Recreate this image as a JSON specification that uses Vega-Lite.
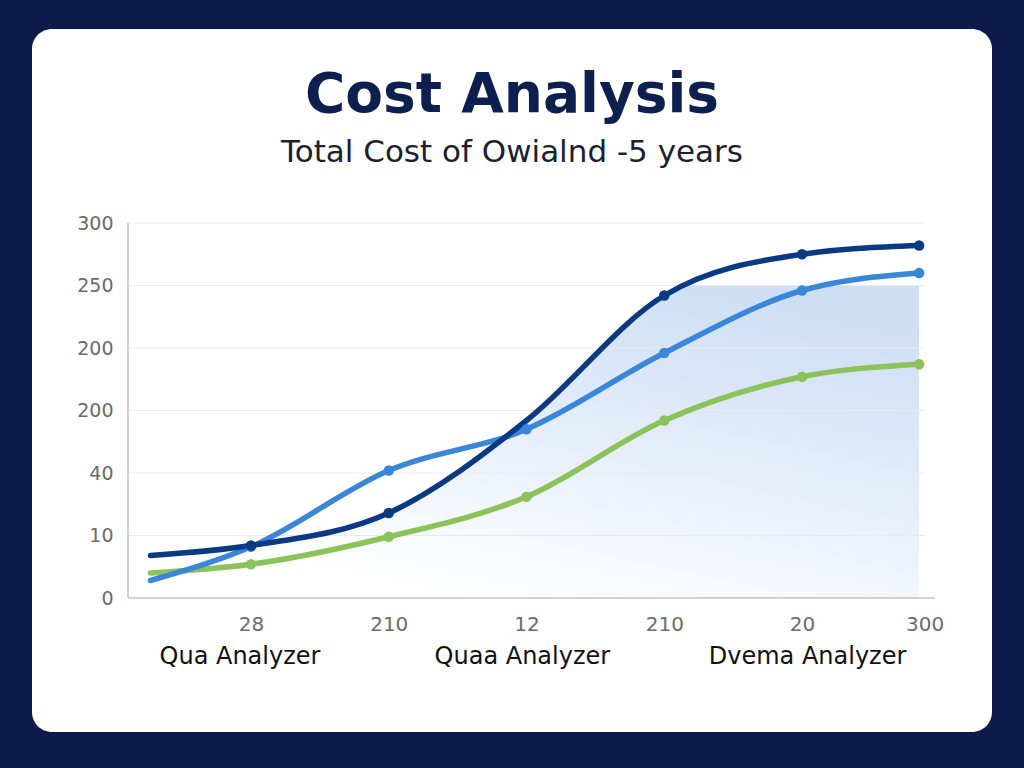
{
  "$schema": "https://vega.github.io/schema/vega-lite/v6.json",
  "width": 960,
  "height": 703,
  "autosize": "none",
  "padding": {"left": 32, "top": 29, "right": 32, "bottom": 36},
  "background": "#0c1b4b",
  "title": {
    "text": "Cost Analysis",
    "subtitle": "Total Cost of Owialnd -5 years",
    "anchor": "middle",
    "offset": -140,
    "font": "DejaVu Sans",
    "fontSize": 55,
    "fontWeight": "bold",
    "color": "#0d1f4f",
    "subtitleFont": "DejaVu Sans",
    "subtitleFontSize": 31,
    "subtitleColor": "#1c1f2e",
    "subtitlePadding": 14
  },
  "datasets": {
    "cost": [
      {"series": "Dvema Analyzer", "t": 0.27, "v": 20},
      {"series": "Dvema Analyzer", "t": 1, "v": 27},
      {"series": "Dvema Analyzer", "t": 2, "v": 49},
      {"series": "Dvema Analyzer", "t": 3, "v": 81},
      {"series": "Dvema Analyzer", "t": 4, "v": 142},
      {"series": "Dvema Analyzer", "t": 5, "v": 177},
      {"series": "Dvema Analyzer", "t": 5.85, "v": 187},
      {"series": "Quaa Analyzer", "t": 0.27, "v": 14},
      {"series": "Quaa Analyzer", "t": 1, "v": 41},
      {"series": "Quaa Analyzer", "t": 2, "v": 102},
      {"series": "Quaa Analyzer", "t": 3, "v": 135},
      {"series": "Quaa Analyzer", "t": 4, "v": 196},
      {"series": "Quaa Analyzer", "t": 5, "v": 246},
      {"series": "Quaa Analyzer", "t": 5.85, "v": 260},
      {"series": "Qua Analyzer", "t": 0.27, "v": 34},
      {"series": "Qua Analyzer", "t": 1, "v": 42},
      {"series": "Qua Analyzer", "t": 2, "v": 68},
      {"series": "Qua Analyzer", "t": 3, "v": 142},
      {"series": "Qua Analyzer", "t": 4, "v": 242},
      {"series": "Qua Analyzer", "t": 5, "v": 275},
      {"series": "Qua Analyzer", "t": 5.85, "v": 282}
    ],
    "band": [
      {"t": 1, "v": 42},
      {"t": 2, "v": 68},
      {"t": 3, "v": 142},
      {"t": 4, "v": 242},
      {"t": 4.2, "v": 250},
      {"t": 5, "v": 250},
      {"t": 5.85, "v": 250}
    ],
    "grid": [{"v": 50}, {"v": 100}, {"v": 150}, {"v": 200}, {"v": 250}, {"v": 300}],
    "groups": [
      {"t": 0.92, "label": "Qua Analyzer"},
      {"t": 2.97, "label": "Quaa Analyzer"},
      {"t": 5.04, "label": "Dvema Analyzer"}
    ]
  },
  "layer": [
    {
      "data": {"name": "band"},
      "mark": {
        "type": "area",
        "interpolate": "monotone",
        "color": {
          "gradient": "linear",
          "x1": 0.75, "y1": 0, "x2": 0.3, "y2": 1,
          "stops": [
            {"offset": 0, "color": "#cddef5"},
            {"offset": 0.35, "color": "#dde8f8"},
            {"offset": 0.7, "color": "#f0f5fc"},
            {"offset": 1, "color": "#ffffff"}
          ]
        }
      },
      "encoding": {
        "x": {"field": "t", "type": "quantitative", "scale": {"domain": [-0.5898, 6.379], "nice": false, "zero": false}},
        "y": {"field": "v", "type": "quantitative", "scale": {"domain": [-107.2, 455.2], "nice": false, "zero": false}},
        "y2": {"datum": 0}
      }
    },
    {
      "data": {"name": "grid"},
      "mark": {"type": "rule", "color": "#ebebeb", "strokeWidth": 1},
      "encoding": {
        "x": {"datum": 0.107, "type": "quantitative"},
        "x2": {"datum": 5.893},
        "y": {"field": "v", "type": "quantitative"}
      }
    },
    {
      "data": {"values": [{}]},
      "mark": {"type": "rule", "color": "#d2d2d2", "strokeWidth": 2},
      "encoding": {
        "x": {"datum": 0.107, "type": "quantitative"},
        "y": {"datum": 0, "type": "quantitative"},
        "y2": {"datum": 300}
      }
    },
    {
      "data": {"values": [{}]},
      "mark": {"type": "rule", "color": "#d2d2d2", "strokeWidth": 2},
      "encoding": {
        "x": {"datum": 0.107, "type": "quantitative"},
        "x2": {"datum": 5.965},
        "y": {"datum": 0, "type": "quantitative"}
      }
    },
    {
      "data": {"name": "cost"},
      "mark": {"type": "line", "interpolate": "monotone", "strokeWidth": 5.5, "strokeCap": "round"},
      "encoding": {
        "x": {
          "field": "t",
          "type": "quantitative",
          "scale": {"domain": [-0.5898, 6.379], "nice": false, "zero": false},
          "axis": {
            "title": null,
            "values": [1, 2, 3, 4, 5, 5.89],
            "labelExpr": "datum.value == 1 ? '28' : datum.value == 2 ? '210' : datum.value == 3 ? '12' : datum.value == 4 ? '210' : datum.value == 5 ? '20' : '300'",
            "offset": -134,
            "domain": false,
            "ticks": false,
            "grid": false,
            "labelPadding": 16,
            "labelFont": "DejaVu Sans",
            "labelFontSize": 20,
            "labelColor": "#6b6b6b"
          }
        },
        "y": {
          "field": "v",
          "type": "quantitative",
          "scale": {"domain": [-107.2, 455.2], "nice": false, "zero": false},
          "axis": {
            "title": null,
            "values": [0, 50, 100, 150, 200, 250, 300],
            "labelExpr": "datum.value == 150 ? '200' : datum.value == 100 ? '40' : datum.value == 50 ? '10' : datum.label",
            "offset": -96,
            "domain": false,
            "ticks": false,
            "grid": false,
            "labelPadding": 15,
            "labelFont": "DejaVu Sans",
            "labelFontSize": 19,
            "labelColor": "#6b6b6b"
          }
        },
        "color": {
          "field": "series",
          "type": "nominal",
          "scale": {
            "domain": ["Qua Analyzer", "Quaa Analyzer", "Dvema Analyzer"],
            "range": ["#0b3a82", "#3a86d8", "#8cc25a"]
          },
          "legend": null
        }
      }
    },
    {
      "data": {"name": "cost"},
      "transform": [
        {"filter": "datum.t >= 1 && !(datum.series == 'Qua Analyzer' && datum.t == 3)"}
      ],
      "mark": {"type": "circle", "size": 110, "opacity": 1},
      "encoding": {
        "x": {"field": "t", "type": "quantitative"},
        "y": {"field": "v", "type": "quantitative"},
        "color": {"field": "series", "type": "nominal", "legend": null}
      }
    },
    {
      "data": {"name": "groups"},
      "mark": {"type": "text", "font": "DejaVu Sans", "fontSize": 24, "color": "#111111", "align": "center", "baseline": "middle"},
      "encoding": {
        "x": {"field": "t", "type": "quantitative"},
        "y": {"datum": -47.2, "type": "quantitative"},
        "text": {"field": "label"}
      }
    }
  ],
  "config": {
    "view": {"fill": "#ffffff", "cornerRadius": 20, "stroke": null}
  }
}
